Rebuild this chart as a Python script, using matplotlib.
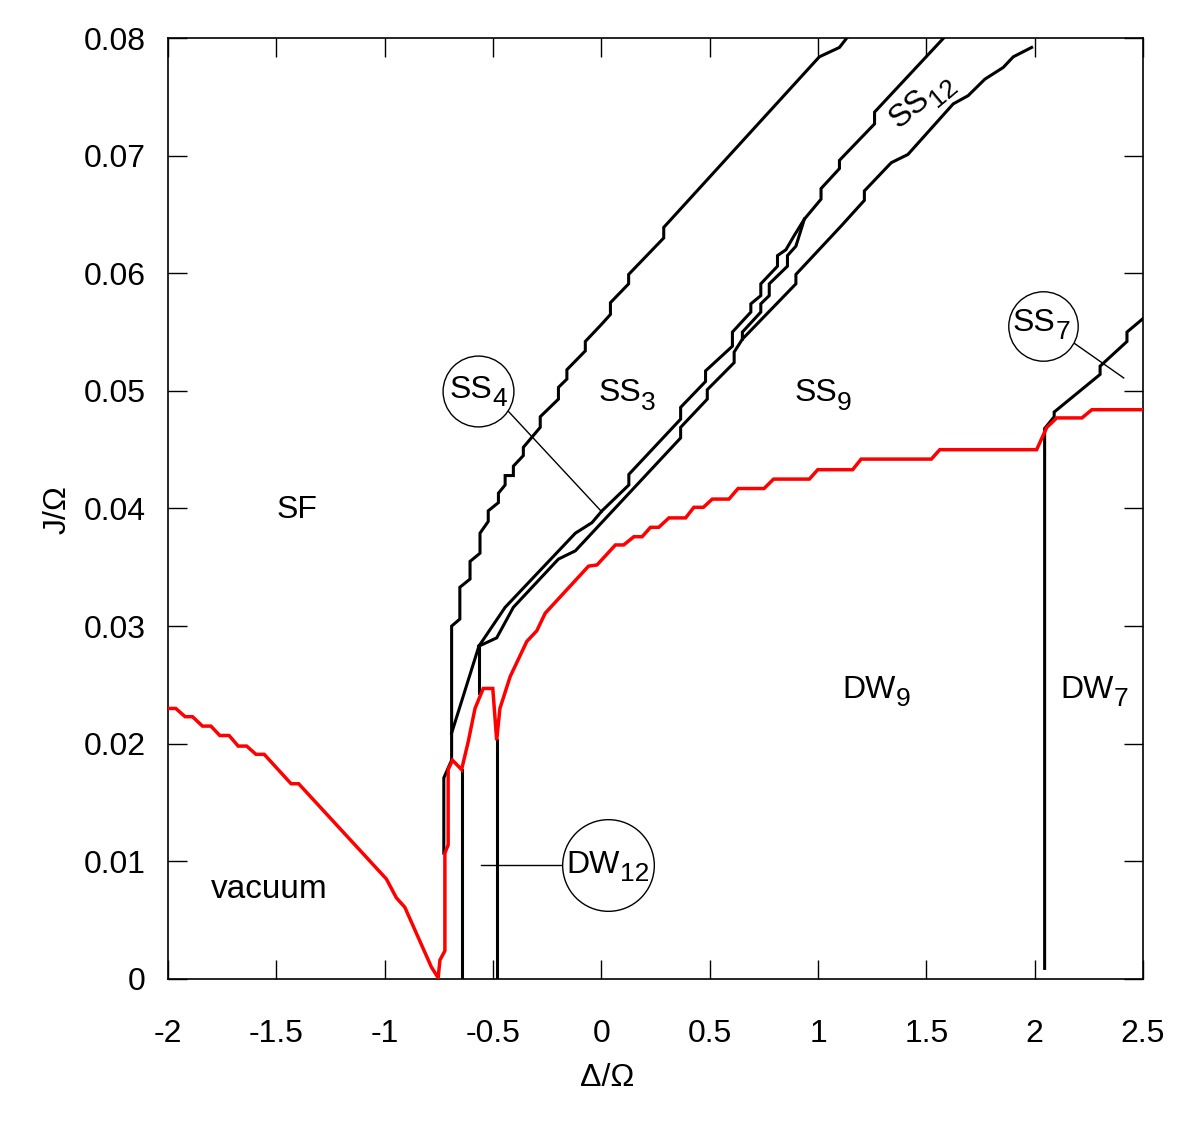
import matplotlib
matplotlib.use("Agg")
import math
import matplotlib.pyplot as plt

plt.rcParams['font.family'] = ['Liberation Sans', 'DejaVu Sans']
plt.rcParams['axes.unicode_minus'] = False

# red line: boundary of the insulating (vacuum / DW) phases
red_x = [-2.0, -1.964, -1.921, -1.887, -1.841, -1.802, -1.761, -1.718, -1.676, -1.637,
         -1.594, -1.556, -1.432, -1.397, -0.992, -0.946, -0.907, -0.784, -0.753, -0.745,
         -0.722, -0.722, -0.707, -0.707, -0.687, -0.645, -0.614, -0.583, -0.545, -0.501,
         -0.483, -0.468, -0.421, -0.344, -0.298, -0.259, -0.059, -0.020, 0.065, 0.103,
         0.150, 0.188, 0.227, 0.265, 0.312, 0.389, 0.427, 0.471, 0.512, 0.589,
         0.631, 0.751, 0.795, 0.960, 0.999, 1.160, 1.199, 1.523, 1.562, 2.009,
         2.056, 2.102, 2.218, 2.264, 2.5]
red_y = [0.0230, 0.0230, 0.0223, 0.0223, 0.0215, 0.0215, 0.0207, 0.0207, 0.0198, 0.0198,
         0.0191, 0.0191, 0.0166, 0.0166, 0.0085, 0.0069, 0.0061, 0.0010, 0.0001, 0.0016,
         0.0024, 0.0107, 0.0114, 0.0178, 0.0186, 0.0178, 0.0202, 0.0230, 0.0247, 0.0247,
         0.0203, 0.0230, 0.0257, 0.0287, 0.0296, 0.0311, 0.0351, 0.0352, 0.0369, 0.0369,
         0.0376, 0.0376, 0.0384, 0.0384, 0.0392, 0.0392, 0.0401, 0.0401, 0.0408, 0.0408,
         0.0417, 0.0417, 0.0425, 0.0425, 0.0433, 0.0433, 0.0442, 0.0442, 0.0450, 0.0450,
         0.0469, 0.0477, 0.0477, 0.0484, 0.0484]

# SF boundary
sf_x = [-0.727, -0.727, -0.691, -0.691, -0.653, -0.653, -0.606, -0.606, -0.560, -0.560,
        -0.522, -0.522, -0.475, -0.475, -0.444, -0.444, -0.406, -0.406, -0.360, -0.360,
        -0.282, -0.282, -0.198, -0.198, -0.159, -0.159, -0.074, -0.074, 0.003, 0.042,
        0.042, 0.126, 0.126, 0.288, 0.288, 1.006, 1.099, 1.137]
sf_y = [0.0107, 0.0171, 0.0186, 0.0300, 0.0306, 0.0333, 0.0340, 0.0355, 0.0362, 0.0379,
        0.0389, 0.0398, 0.0405, 0.0413, 0.0420, 0.0428, 0.0428, 0.0436, 0.0445, 0.0452,
        0.0469, 0.0478, 0.0493, 0.0503, 0.0510, 0.0518, 0.0534, 0.0542, 0.0557, 0.0565,
        0.0575, 0.0591, 0.0599, 0.0630, 0.0639, 0.0784, 0.0792, 0.0801]

# SS4 lower-left edge and short vertical at the junction
ss4_x = [-0.691, -0.565]
ss4_y = [0.0209, 0.0283]
jv_x = [-0.565, -0.565]
jv_y = [0.0243, 0.0283]

# upper line of the thin pair (SS3 lower edge)
e_x = [-0.565, -0.444, -0.120, -0.043, 0.003, 0.127, 0.127, 0.366, 0.366, 0.481,
       0.481, 0.605, 0.605, 0.690, 0.690, 0.736, 0.736, 0.813, 0.813, 0.852,
       0.890, 0.937, 1.014, 1.014, 1.099, 1.099, 1.261, 1.261, 1.585]
e_y = [0.0283, 0.0316, 0.0379, 0.0388, 0.0398, 0.0420, 0.0429, 0.0476, 0.0486, 0.0508,
       0.0517, 0.0538, 0.0550, 0.0567, 0.0574, 0.0581, 0.0591, 0.0606, 0.0615, 0.0620,
       0.0632, 0.0646, 0.0663, 0.0672, 0.0689, 0.0696, 0.0727, 0.0737, 0.0801]

# lower line of the pair, continuing as the SS9 upper edge
f_x = [-0.565, -0.483, -0.406, -0.198, -0.120, 0.366, 0.366, 0.489, 0.489, 0.613,
       0.613, 0.651, 0.898, 0.898, 1.106, 1.214, 1.214, 1.338, 1.415, 1.624,
       1.693, 1.770, 1.855, 1.901, 1.986]
f_y = [0.0283, 0.0290, 0.0316, 0.0357, 0.0364, 0.0460, 0.0469, 0.0493, 0.0501, 0.0524,
       0.0533, 0.0544, 0.0591, 0.0599, 0.0640, 0.0662, 0.0670, 0.0694, 0.0701, 0.0744,
       0.0751, 0.0765, 0.0775, 0.0784, 0.0792]

# middle branch closing the lens
f1_x = [0.651, 0.651, 0.736, 0.736, 0.775, 0.775, 0.859, 0.859, 0.898, 0.937]
f1_y = [0.0544, 0.0550, 0.0567, 0.0574, 0.0581, 0.0591, 0.0606, 0.0615, 0.0623, 0.0646]

# DW12 verticals
dw12l_x = [-0.645, -0.645]
dw12l_y = [0.0, 0.0178]
dw12r_x = [-0.483, -0.483]
dw12r_y = [0.0, 0.0203]

# DW9 / DW7 boundary and SS7 edge
dw7_x = [2.046, 2.046, 2.09, 2.09, 2.302, 2.302, 2.426, 2.426, 2.51]
dw7_y = [0.0009, 0.0468, 0.0478, 0.0482, 0.0514, 0.0521, 0.0542, 0.0550, 0.0563]

xticks = [-2, -1.5, -1, -0.5, 0, 0.5, 1, 1.5, 2, 2.5]
xticklabels = ['-2', '-1.5', '-1', '-0.5', '0', '0.5', '1', '1.5', '2', '2.5']
yticks = [0, 0.01, 0.02, 0.03, 0.04, 0.05, 0.06, 0.07, 0.08]
yticklabels = ['0', '0.01', '0.02', '0.03', '0.04', '0.05', '0.06', '0.07', '0.08']

fig = plt.figure(figsize=(12, 11.25), dpi=100)
ax = fig.add_axes([0.14, 0.1298, 0.8125, 0.8364])

lw = 2.2
for xs, ys in [(sf_x, sf_y), (ss4_x, ss4_y), (jv_x, jv_y), (e_x, e_y), (f_x, f_y),
               (f1_x, f1_y), (dw12l_x, dw12l_y), (dw12r_x, dw12r_y), (dw7_x, dw7_y)]:
    ax.plot(xs, ys, color='black', lw=lw, solid_joinstyle='miter', zorder=2)
ax.plot(red_x, red_y, color='#ff0000', lw=2.5, solid_joinstyle='miter', zorder=3)

fs = 23
fsub = 19


def sublabel(x, y, main, sub, rot=0, z=5):
    # main text ends at (x, y) on its baseline, subscript hangs below
    ax.text(x, y, main, fontsize=fs, ha='right', va='baseline',
            rotation=rot, rotation_mode='anchor', zorder=z)
    c, s = math.cos(math.radians(rot)), math.sin(math.radians(rot))
    dx, dy = 0.0, -6.0
    ax.annotate(sub, (x, y), xytext=(dx * c - dy * s, dx * s + dy * c),
                textcoords='offset points', fontsize=fsub, ha='left', va='baseline',
                rotation=rot, rotation_mode='anchor', zorder=z)


ax.text(-1.403, 0.0399, 'SF', fontsize=fs, ha='center', va='center')
ax.text(-1.532, 0.0076, 'vacuum', fontsize=24, ha='center', va='center')
sublabel(0.185, 0.0491, 'SS', '3')
sublabel(1.088, 0.0491, 'SS', '9')
sublabel(1.358, 0.0239, 'DW', '9')
sublabel(2.366, 0.0239, 'DW', '7')
sublabel(1.525, 0.0746, 'SS', '12', rot=40)

# circled labels with pointers
ax.plot([-0.431, 0.003], [0.0483, 0.0397], color='black', lw=1)
ax.plot(-0.569, 0.0500, 'o', ms=51, mfc='white', mec='black', mew=1, zorder=4)
sublabel(-0.504, 0.0494, 'SS', '4')

ax.plot([2.171, 2.411], [0.0542, 0.0511], color='black', lw=1)
ax.plot(2.037, 0.0555, 'o', ms=50, mfc='white', mec='black', mew=1, zorder=4)
sublabel(2.095, 0.0551, 'SS', '7')

ax.plot([-0.556, -0.181], [0.0097, 0.0097], color='black', lw=1)
ax.plot(0.032, 0.0097, 'o', ms=66, mfc='white', mec='black', mew=1, zorder=4)
sublabel(0.085, 0.0090, 'DW', '12')

ax.set_xlim(-2, 2.5)
ax.set_ylim(0, 0.08)
ax.set_xticks(xticks)
ax.set_xticklabels(xticklabels)
ax.set_yticks(yticks)
ax.set_yticklabels(yticklabels)
ax.tick_params(direction='in', length=14, width=1, top=True, right=True, labelsize=fs)
ax.tick_params(axis='x', pad=29)
ax.tick_params(axis='y', pad=16)
for sp in ax.spines.values():
    sp.set_linewidth(1.2)

fig.text(607 / 1200, 1 - 1078 / 1125, 'Δ/Ω', fontsize=fs, ha='center', va='center')
fig.text(58 / 1200, 1 - 510 / 1125, 'J/Ω', fontsize=fs, ha='center', va='center',
         rotation=90)

fig.savefig('out.png', dpi=100)
